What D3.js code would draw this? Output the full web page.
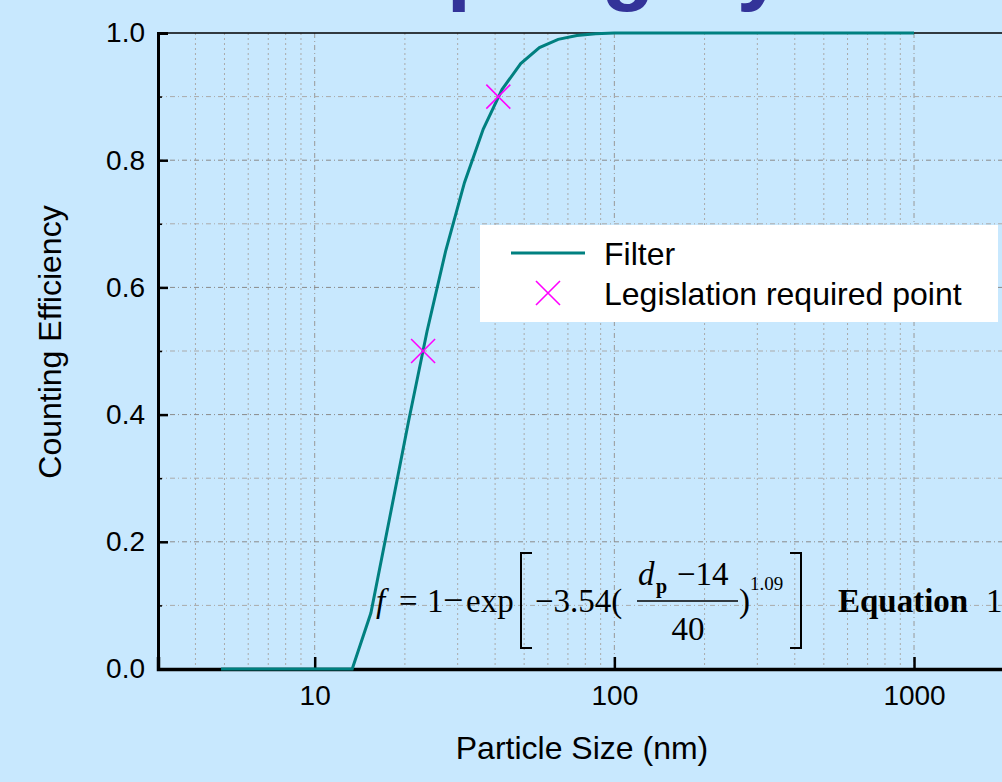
<!DOCTYPE html>
<html>
<head>
<meta charset="utf-8">
<title>Counting Efficiency</title>
<style>
    body { margin: 0; background: #c8e8fe; overflow: hidden; }
    svg { display: block; font-family: "Liberation Sans", Arial, sans-serif; }
    .tick text { font-size: 28px; fill: #000; }
    .eq { font-family: "Liberation Serif", "Times New Roman", serif; fill: #000; }
</style>
<script src="https://cdnjs.cloudflare.com/ajax/libs/d3/7.8.5/d3.min.js"></script>
</head>
<body>
<div id="chart"></div>
<script>
// particle size (nm) of each sampled point on the filter curve
const sizeNm = [4.87, 5.62, 6.49, 7.50, 8.66, 10.0, 11.55, 13.34, 15.40, 17.78,
    20.54, 23.71, 27.38, 31.62, 36.52, 42.17, 48.70, 56.23, 64.94, 74.99,
    86.60, 100, 115.5, 133.4, 154.0, 177.8, 205.4, 237.1, 273.8, 316.2,
    365.2, 421.7, 487.0, 562.3, 649.4, 749.9, 866.0, 1000];
// counting efficiency
const efficiency = [0, 0, 0, 0, 0, 0, 0, 0, 0.088, 0.237,
    0.388, 0.531, 0.658, 0.765, 0.849, 0.911, 0.952, 0.977, 0.990, 0.996,
    0.999, 1.0, 1.0, 1.0, 1.0, 1.0, 1.0, 1.0, 1.0, 1.0,
    1.0, 1.0, 1.0, 1.0, 1.0, 1.0, 1.0, 1.0];
// legislation required points
const legSize = [23, 41];
const legEff = [0.5, 0.9];

const yTicks = [0, 0.2, 0.4, 0.6, 0.8, 1.0];
const yMinor = [0.1, 0.3, 0.5, 0.7, 0.9];
const xTicks = [10, 100, 1000];

const W = 1002, H = 782;
const svg = d3.select("#chart").append("svg")
    .attr("width", W).attr("height", H);

const x = d3.scaleLog().domain([3, 3000]).range([158, 1057]);
const y = d3.scaleLinear().domain([0, 1]).range([669, 33]);

// title, mostly above the visible area
svg.append("text")
    .attr("x", 263).attr("y", -6)
    .style("font-size", "87px").style("font-weight", "bold")
    .attr("fill", "#333399")
    .text("Sampling System");

// grid
const gridX = x.ticks().filter(d => d > 3 && d <= 1000);
svg.append("g").selectAll("line").data(gridX).enter().append("line")
    .attr("x1", d => x(d)).attr("x2", d => x(d))
    .attr("y1", y(1)).attr("y2", y(0))
    .attr("stroke", d => xTicks.includes(d) ? "#999" : "#aaa")
    .attr("stroke-width", 1)
    .attr("stroke-dasharray", d => xTicks.includes(d) ? "5,3,1,3" : "2,3");

const gridY = yMinor.concat(yTicks.filter(d => d > 0 && d < 1));
svg.append("g").selectAll("line").data(gridY).enter().append("line")
    .attr("x1", x(3)).attr("x2", W)
    .attr("y1", d => y(d)).attr("y2", d => y(d))
    .attr("stroke", d => yMinor.includes(d) ? "#aaa" : "#8a8a8a")
    .attr("stroke-width", 1)
    .attr("stroke-dasharray", "5,3,1,3");

// top frame line
svg.append("line")
    .attr("x1", x(3)).attr("x2", W)
    .attr("y1", y(1)).attr("y2", y(1))
    .attr("stroke", "#000").attr("stroke-width", 1.5);

// axes
const yAxis = svg.append("g")
    .attr("transform", `translate(${x(3)},0)`)
    .call(d3.axisLeft(y).tickValues(yTicks).tickFormat(d3.format(".1f"))
        .tickSize(-10).tickPadding(13));
yAxis.select(".domain").attr("stroke-width", 3);
yAxis.selectAll(".tick line").attr("stroke-width", 2.5);

svg.append("g")
    .attr("transform", `translate(${x(3)},0)`)
    .call(d3.axisLeft(y).tickValues(yMinor).tickSize(-4).tickFormat(""))
    .call(g => g.select(".domain").remove())
    .selectAll(".tick line").attr("stroke-width", 1.5);

const xAxis = svg.append("g")
    .attr("transform", `translate(0,${y(0)})`)
    .call(d3.axisBottom(x).tickValues(xTicks).tickFormat(d3.format("d"))
        .tickSize(-12).tickPadding(16));
xAxis.select(".domain").attr("stroke-width", 3.5);
xAxis.selectAll(".tick line").attr("stroke-width", 2.5);

// axis titles
svg.append("text")
    .attr("x", 582).attr("y", 759)
    .attr("text-anchor", "middle")
    .style("font-size", "32px")
    .text("Particle Size (nm)");
svg.append("text")
    .attr("transform", "translate(61,342) rotate(-90)")
    .attr("text-anchor", "middle")
    .style("font-size", "32px")
    .text("Counting Efficiency");

// curve
const line = d3.line().x((d, i) => x(sizeNm[i])).y(d => y(d));
svg.append("path")
    .datum(efficiency)
    .attr("d", line)
    .attr("fill", "none")
    .attr("stroke", "#008080")
    .attr("stroke-width", 3);

// cross markers
svg.append("g").selectAll("path").data(legSize).enter().append("path")
    .attr("d", "M-12,-12L12,12M-12,12L12,-12")
    .attr("transform", (d, i) => `translate(${x(d)},${y(legEff[i])})`)
    .attr("stroke", "#ff00ff").attr("stroke-width", 1.6).attr("fill", "none");

// equation
const eq = svg.append("g").attr("class", "eq");
eq.append("text").attr("x", 376).attr("y", 612).style("font-size", "33px")
    .style("font-style", "italic").text("f");
eq.append("text").attr("x", 399).attr("y", 612).style("font-size", "33px").text("=");
eq.append("text").attr("x", 427).attr("y", 612).style("font-size", "33px").text("1");
eq.append("text").attr("x", 443).attr("y", 612).style("font-size", "36px").text("\u2212");
eq.append("text").attr("x", 466).attr("y", 612).style("font-size", "33px").text("exp");
eq.append("path").attr("d", "M532,553H521V648H532").attr("fill", "none")
    .attr("stroke", "#000").attr("stroke-width", 2);
eq.append("text").attr("x", 535).attr("y", 612).style("font-size", "33px").text("\u22123.54(");
eq.append("text").attr("x", 638).attr("y", 585).style("font-size", "33px")
    .style("font-style", "italic").text("d");
eq.append("text").attr("x", 656).attr("y", 593).style("font-size", "20px")
    .style("font-weight", "bold").text("p");
eq.append("text").attr("x", 677).attr("y", 585).style("font-size", "33px").text("\u221214");
eq.append("line").attr("x1", 637).attr("x2", 738).attr("y1", 601).attr("y2", 601)
    .attr("stroke", "#000").attr("stroke-width", 1.5);
eq.append("text").attr("x", 688).attr("y", 640).attr("text-anchor", "middle")
    .style("font-size", "33px").text("40");
eq.append("text").attr("x", 739).attr("y", 612).style("font-size", "33px").text(")");
eq.append("text").attr("x", 750).attr("y", 590).style("font-size", "19px").text("1.09");
eq.append("path").attr("d", "M790,553H801V648H790").attr("fill", "none")
    .attr("stroke", "#000").attr("stroke-width", 2);
eq.append("text").attr("x", 838).attr("y", 612).style("font-size", "33px")
    .style("font-weight", "bold").text("Equation");
eq.append("text").attr("x", 986).attr("y", 612).style("font-size", "33px").text("1");

// legend
const legend = svg.append("g");
legend.append("rect").attr("x", 480).attr("y", 225).attr("width", 518).attr("height", 97)
    .attr("fill", "#fff");
legend.append("line").attr("x1", 511).attr("x2", 585).attr("y1", 253).attr("y2", 253)
    .attr("stroke", "#008080").attr("stroke-width", 3);
legend.append("path").attr("d", "M-12,-12L12,12M-12,12L12,-12")
    .attr("transform", "translate(548,293)")
    .attr("stroke", "#ff00ff").attr("stroke-width", 1.6);
legend.append("text").attr("x", 604).attr("y", 265).style("font-size", "32px").text("Filter");
legend.append("text").attr("x", 604).attr("y", 305).style("font-size", "32px")
    .text("Legislation required point");
</script>
</body>
</html>
